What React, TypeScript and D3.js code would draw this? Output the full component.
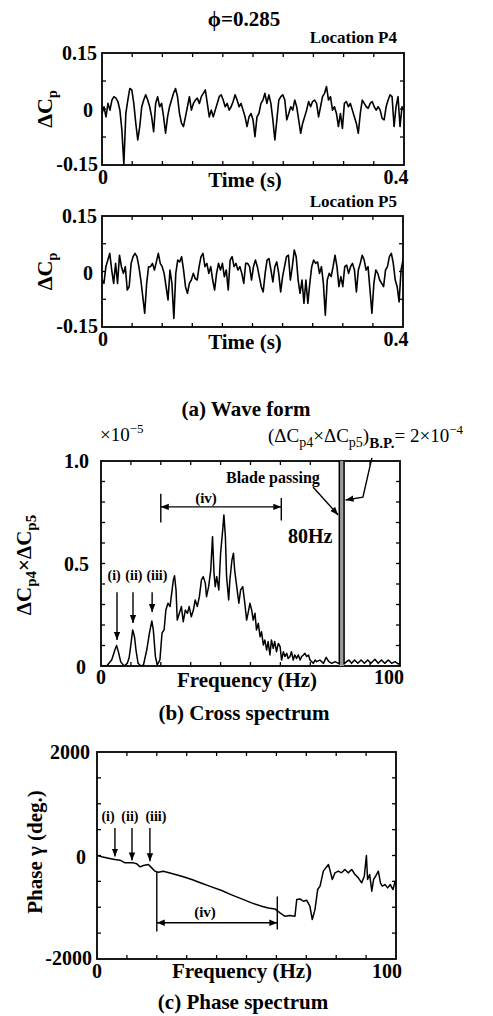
import React, { useEffect, useRef } from "react";
import * as d3 from "d3";

const W = 493;
const H = 1016;
const FONT = "'Liberation Serif', 'Times New Roman', serif";

// (a) wave form: dCp sampled evenly over 0 - 0.4 s
const timeRange = [0, 0.4];
const p4Values = [
  -0.012, 0.006, -0.021, 0.015, -0.003, 0.024, 0.033, 0.029, 0.02, -0.003, -0.056, -0.148,
  -0.012, 0.024, 0.055, 0.051, 0.015, -0.038, -0.083, -0.047, 0.006, 0.024, 0.038, 0.024,
  0.006, -0.021, -0.061, 0.015, 0.033, 0.006, 0.015, -0.021, -0.065, -0.021, 0.006, 0.024,
  0.042, 0.055, 0.033, -0.012, -0.038, -0.047, -0.021, 0.006, 0.033, -0.003, 0.015, 0.024,
  0.029, 0.015, 0.033, 0.042, 0.051, 0.015, -0.021, -0.003, -0.021, -0.003, 0.015, 0.033,
  0.038, 0.024, 0.006, 0.015, -0.003, 0.006, 0.02, 0.038, 0.024, 0.006, 0.015, -0.003,
  -0.021, -0.047, -0.021, -0.012, -0.029, -0.074, -0.021,
  -0.012, 0.015, 0.024, 0.042, 0.015, 0.038, 0.015, -0.029, -0.083, -0.029, 0.024, 0.033,
  0.038, 0.024, -0.029, -0.012, 0.006, -0.003, 0.024, 0.006, -0.029, -0.065, -0.038, -0.021,
  -0.003, 0.02, 0.006, 0.02, 0.024, 0.015, -0.021, 0.006, 0.033, 0.042, 0.06, 0.024, 0.033,
  -0.003, 0.006, -0.012, -0.047, -0.012, -0.052, 0.015, 0.02, 0.006, 0.015, -0.003, -0.021,
  -0.038, -0.065, -0.012, 0.024, 0.015, 0.006, 0.002, 0.015, 0.02, 0.006, -0.003, 0.006,
  -0.003, -0.025, -0.029, 0.006, 0.024, 0.038, 0.033, -0.047, 0.006, 0.033, -0.047, 0.006,
  -0.003,
];
const p5Values = [
  -0.023, -0.032, 0.013, 0.031, 0.049, 0.004, -0.032, 0.022, -0.032, 0.044, 0.013, -0.005,
  0.013, -0.05, -0.041, 0.022, 0.04, 0.049, 0.04, 0.013, -0.023, -0.068, -0.113, -0.032,
  0.013, 0.013, 0.022, 0.004, 0.026, 0.049, 0.022, 0.013, -0.005, -0.041, -0.077, 0.004,
  -0.032, -0.127, -0.005, 0.031, 0.026, 0.04, 0.004, -0.041, -0.059, -0.032, -0.023, -0.005,
  -0.019, -0.023, 0.013, 0.04, 0.049, 0.013, 0.022, -0.005, 0.013, -0.023, -0.05, -0.005,
  0.022, 0.004, 0.022, -0.014, 0.004, -0.05, 0.031, 0.04, 0.013, 0.022, 0.004, 0.013,
  -0.005, -0.032, 0.022, 0.022, 0.013, -0.023,
  0.013, 0.031, 0.013, -0.014, -0.041, -0.055, -0.005, 0.031, 0.035, 0.004, -0.028, 0.013,
  0.026, -0.005, -0.055, -0.014, 0.013, 0.04, 0.044, -0.023, 0.013, 0.058, 0.04, -0.023,
  -0.059, -0.023, -0.086, -0.023, -0.086, -0.032, 0.013, 0.031, 0.022, 0.026, -0.005, 0.013,
  -0.032, -0.118, -0.023, -0.005, -0.014, 0.013, 0.044, 0.013, -0.041, -0.014, -0.041, 0.013,
  0.017, -0.005, 0.013, 0.022, 0.004, -0.055, 0.004, 0.022, 0.044, 0.031, 0.004, 0.013,
  -0.05, -0.113, -0.032, 0.004, -0.005, -0.023, -0.032, -0.041, 0.004, 0.013, 0.04, 0.049,
  0.022, -0.023, -0.041, -0.082, 0.004, 0.031,
];

// (b) cross spectrum, units of 1e-5
const crossFreq = [
  0, 1.9, 3.6, 4.7, 5.2, 5.8, 6.6, 7.7, 8.8, 9.4, 9.9, 10.6, 11.2, 11.7, 12.4, 13.3, 14.2,
  15.3, 16.2, 17.0, 17.5, 18.2, 18.8, 19.7, 20.4, 21.1, 21.7, 22.4, 23.1, 23.5, 24.2, 24.6,
  25.1, 25.5, 26.2, 26.9, 27.5, 28.2, 28.9, 29.5, 30.2, 30.9, 31.5, 32.2, 32.9, 33.6, 34.2,
  34.9, 35.3, 36.0, 36.7, 37.3, 37.8, 38.2, 38.7, 39.4, 40.0, 40.7, 41.1, 41.6, 42.0, 42.7,
  43.1, 43.8, 44.3, 44.7, 45.4, 46.1, 46.7, 47.4, 48.1, 48.7, 49.4, 49.8, 50.4, 50.9, 51.5,
  52.0, 52.6, 53.2, 53.7, 54.3, 54.8, 55.4, 55.9, 56.5, 57.0, 57.6, 58.1, 58.7, 59.3, 59.9,
  60.4, 61.0, 61.5, 62.1, 62.6, 63.2, 63.7, 64.3, 64.8, 65.4, 66.0, 66.6, 67.1, 67.7, 68.2,
  68.8, 69.4, 69.9, 70.5, 71.0, 71.6, 72.1, 73.2, 74.4, 75.3, 76.2, 77.2, 78.3, 79.7, 79.72,
  81.28, 81.3, 82.1, 82.9, 83.8, 84.8, 85.9, 87.0, 88.1, 89.2, 90.3, 91.6, 92.7, 93.8, 94.9,
  96.1, 97.2, 98.3, 99.4, 100,
];
const crossValue = [
  0, 0, 0.03, 0.08, 0.1, 0.07, 0.02, 0, 0.013, 0.04, 0.094, 0.176, 0.143, 0.078, 0.013, 0,
  0.005, 0.078, 0.16, 0.22, 0.176, 0.046, 0.005, 0.03, 0.16, 0.176, 0.273, 0.306, 0.29,
  0.338, 0.42, 0.44, 0.37, 0.224, 0.257, 0.29, 0.216, 0.273, 0.257, 0.29, 0.24, 0.273,
  0.322, 0.29, 0.338, 0.42, 0.436, 0.403, 0.338, 0.387, 0.468, 0.631, 0.452, 0.387, 0.436,
  0.371, 0.55, 0.663, 0.737, 0.631, 0.436, 0.322, 0.42, 0.517, 0.55, 0.468, 0.387, 0.306,
  0.371, 0.387, 0.306, 0.224, 0.273, 0.306, 0.273, 0.224, 0.257, 0.176, 0.208, 0.143,
  0.167, 0.102, 0.127, 0.078, 0.119, 0.054, 0.127, 0.086, 0.119, 0.07, 0.11, 0.094, 0.029,
  0.07, 0.046, 0.062, 0.037, 0.046, 0.07, 0.029, 0.054, 0.037, 0.054, 0.029, 0.046, 0.054,
  0.062, 0.046, 0.054, 0.029, 0.021, 0.013, 0.029, 0.021, 0.029, 0.013, 0.042, 0.021,
  0.013, 0.021, 0.01, 20, 20, 0.01, 0.021, 0.029, 0.013, 0.029, 0.013, 0.029, 0.013, 0.029,
  0.013, 0.033, 0.013, 0.029, 0.013, 0.029, 0.013, 0.021, 0.01, 0.012,
];
const bladeBand = [79.6, 81.4];

// (c) phase spectrum, degrees
const phaseFreq = [
  0, 1.6, 3.8, 6.0, 7.7, 9.4, 10.5, 12.1, 13.3, 14.4, 15.5, 17.2, 18.3, 19.4, 20.5, 22.2,
  25.0, 28.3, 31.7, 35.0, 38.3, 41.7, 45.0, 48.4, 51.7, 55.1, 57.3, 59.5, 61.2, 62.9, 64.5,
  66.2, 66.8, 67.9, 69.0, 70.1, 71.2, 72.0, 72.9, 73.8, 74.6, 75.7, 76.5, 77.4, 78.0, 78.7,
  79.6, 80.7, 81.8, 82.9, 84.0, 85.2, 86.3, 87.4, 88.5, 89.4, 90.1, 90.5, 91.2, 91.9, 92.5,
  93.2, 94.1, 94.8, 95.4, 96.3, 97.2, 98.1, 99.0, 99.7, 100,
];
const phaseValue = [
  0, -26, -52, -77, -90, -142, -142, -142, -161, -219, -193, -174, -239, -303, -322, -303,
  -348, -400, -464, -535, -606, -677, -761, -839, -916, -980, -1013, -1032, -1109, -1174,
  -1161, -1174, -851, -839, -884, -864, -980, -1238, -1045, -658, -593, -303, -239, -174,
  -303, -464, -335, -303, -335, -271, -335, -271, -368, -432, -529, -400, 0, -464, -368,
  -690, -464, -400, -303, -529, -593, -561, -626, -561, -658, -497, -561,
];

const peakLabels = ["(i)", "(ii)", "(iii)"];
const crossPeakFreq = [5.35, 10.7, 17.1];
const crossArrowTip = [0.127, 0.21, 0.263];
const crossLabelFreq = [4.4, 11.0, 18.7];
const phasePeakFreq = [6.0, 11.7, 17.7];
const phaseArrowTip = [-20, -95, -110];
const phaseLabelFreq = [3.7, 11.0, 19.7];
const bandIV = [20, 60.3];

function txt(g, x, y, s, size, anchor = "middle", weight = "bold") {
  return g
    .append("text")
    .attr("x", x)
    .attr("y", y)
    .attr("text-anchor", anchor)
    .attr("font-family", FONT)
    .attr("font-weight", weight)
    .attr("font-size", size)
    .text(s);
}

// frame with inward ticks on all four sides
function frame(g, x, y, xStep, yStep, id) {
  const [x0, x1] = x.domain();
  const [y0, y1] = y.domain();
  const xt = d3.range(x0 + xStep, x1 - xStep / 2, xStep);
  const yt = d3.range(y0 + yStep, y1 - yStep / 2, yStep);
  const L = 4;
  const t = g.append("g").attr("stroke", "#000").attr("stroke-width", 1.3);
  xt.forEach((v) => {
    t.append("line").attr("x1", x(v)).attr("x2", x(v)).attr("y1", y.range()[0]).attr("y2", y.range()[0] - L);
    t.append("line").attr("x1", x(v)).attr("x2", x(v)).attr("y1", y.range()[1]).attr("y2", y.range()[1] + L);
  });
  yt.forEach((v) => {
    t.append("line").attr("y1", y(v)).attr("y2", y(v)).attr("x1", x.range()[0]).attr("x2", x.range()[0] + L);
    t.append("line").attr("y1", y(v)).attr("y2", y(v)).attr("x1", x.range()[1]).attr("x2", x.range()[1] - L);
  });
  g.append("rect")
    .attr("x", x.range()[0])
    .attr("y", y.range()[1])
    .attr("width", x.range()[1] - x.range()[0])
    .attr("height", y.range()[0] - y.range()[1])
    .attr("fill", "none")
    .attr("stroke", "#000")
    .attr("stroke-width", 1.8);
  g.append("clipPath")
    .attr("id", id)
    .append("rect")
    .attr("x", x.range()[0])
    .attr("y", y.range()[1])
    .attr("width", x.range()[1] - x.range()[0])
    .attr("height", y.range()[0] - y.range()[1]);
}

function arrow(g, pts) {
  g.append("path")
    .attr("d", d3.line()(pts))
    .attr("fill", "none")
    .attr("stroke", "#000")
    .attr("stroke-width", 1.4)
    .attr("marker-end", "url(#ah)");
}

function wavePanel(svg, values, top, bottom, right, loc, locY, clipId) {
  const g = svg.append("g");
  const x = d3.scaleLinear().domain(timeRange).range([102, right]);
  const y = d3.scaleLinear().domain([-0.15, 0.15]).range([bottom, top]);
  frame(g, x, y, 0.04, 0.075, clipId);
  const n = values.length;
  const line = d3
    .line<number>()
    .x((d, i) => x((i / (n - 1)) * timeRange[1]))
    .y((d) => y(d));
  g.append("path")
    .datum(values)
    .attr("d", line)
    .attr("clip-path", `url(#${clipId})`)
    .attr("fill", "none")
    .attr("stroke", "#000")
    .attr("stroke-width", 1.6)
    .attr("stroke-linejoin", "round");
  txt(g, 97, y(0.15) + 7, "0.15", 20, "end");
  txt(g, 93, y(0) + 8, "0", 20, "end");
  txt(g, 98, y(-0.15) + 6, "-0.15", 20, "end");
  txt(g, 103, bottom + 19, "0", 20);
  txt(g, 396, bottom + 19, "0.4", 20);
  txt(g, 245, bottom + 22, "Time (s)", 21);
  txt(g, 397, locY, loc, 17, "end");
  const yl = g
    .append("text")
    .attr("transform", `translate(52,${(top + bottom) / 2}) rotate(-90)`)
    .attr("text-anchor", "middle")
    .attr("font-family", FONT)
    .attr("font-weight", "bold")
    .attr("font-size", 22);
  yl.append("tspan").text("ΔC");
  yl.append("tspan").attr("dy", 5).attr("font-size", 14).text("p");
}

export default function App() {
  const ref = useRef<HTMLDivElement>(null);
  useEffect(() => {
    const root = d3.select(ref.current);
    root.selectAll("*").remove();
    const svg = root.append("svg").attr("width", W).attr("height", H).style("display", "block");
    svg.append("rect").attr("width", W).attr("height", H).attr("fill", "#fff");
    svg
      .append("defs")
      .append("marker")
      .attr("id", "ah")
      .attr("viewBox", "0 0 10 10")
      .attr("refX", 10)
      .attr("refY", 5)
      .attr("markerWidth", 8)
      .attr("markerHeight", 8)
      .attr("markerUnits", "userSpaceOnUse")
      .attr("orient", "auto-start-reverse")
      .append("path")
      .attr("d", "M0,1 L10,5 L0,9 z")
      .attr("fill", "#000");

    txt(svg, 244, 26, "ϕ=0.285", 21);

    // (a)
    wavePanel(svg, p4Values, 53, 165, 404, "Location P4", 43, "clipA");
    wavePanel(svg, p5Values, 216, 327, 403, "Location P5", 207, "clipB");
    txt(svg, 246, 416, "(a) Wave form", 21);

    // (b) cross spectrum
    const gb = svg.append("g");
    const xb = d3.scaleLinear().domain([0, 100]).range([101, 400]);
    const yb = d3.scaleLinear().domain([0, 1]).range([666, 461]);
    frame(gb, xb, yb, 10, 0.1, "clipC");
    const pts = crossFreq.map((f, i) => [f, crossValue[i]] as [number, number]);
    gb.append("path")
      .datum(pts.filter((p) => p[0] >= bladeBand[0] && p[0] <= bladeBand[1]))
      .attr("d", d3.area<[number, number]>().x((d) => xb(d[0])).y0(yb(0)).y1((d) => yb(d[1])))
      .attr("clip-path", "url(#clipC)")
      .attr("fill", "#9a9a9a");
    gb.append("path")
      .datum(pts)
      .attr("d", d3.line<[number, number]>().x((d) => xb(d[0])).y((d) => yb(d[1])))
      .attr("clip-path", "url(#clipC)")
      .attr("fill", "none")
      .attr("stroke", "#000")
      .attr("stroke-width", 1.5)
      .attr("stroke-linejoin", "round");
    txt(gb, 89, yb(1) + 7, "1.0", 20, "end");
    txt(gb, 89, yb(0.5) + 7, "0.5", 20, "end");
    txt(gb, 86, yb(0) + 8, "0", 20, "end");
    txt(gb, 101, 684, "0", 20);
    txt(gb, 389, 684, "100", 20);
    txt(gb, 247, 687, "Frequency (Hz)", 21);
    peakLabels.forEach((s, i) => {
      txt(gb, xb(crossLabelFreq[i]), yb(0.42), s, 14);
      arrow(gb, [
        [xb(crossPeakFreq[i]), yb(0.36)],
        [xb(crossPeakFreq[i]), yb(crossArrowTip[i])],
      ]);
    });
    const ivY = yb(0.776);
    arrow(gb, [
      [(xb(bandIV[0]) + xb(bandIV[1])) / 2, ivY],
      [xb(bandIV[0]), ivY],
    ]);
    arrow(gb, [
      [(xb(bandIV[0]) + xb(bandIV[1])) / 2, ivY],
      [xb(bandIV[1]), ivY],
    ]);
    gb.append("line").attr("x1", xb(bandIV[0])).attr("x2", xb(bandIV[0])).attr("y1", yb(0.84)).attr("y2", yb(0.7)).attr("stroke", "#000").attr("stroke-width", 1.4);
    gb.append("line").attr("x1", xb(bandIV[1])).attr("x2", xb(bandIV[1])).attr("y1", yb(0.82)).attr("y2", yb(0.71)).attr("stroke", "#000").attr("stroke-width", 1.4);
    txt(gb, 206, yb(0.795), "(iv)", 15);
    txt(gb, xb(41.8), yb(0.893), "Blade passing", 16, "start");
    arrow(gb, [
      [xb(70.9), yb(0.873)],
      [xb(79.3), yb(0.737)],
    ]);
    txt(gb, xb(62.5), yb(0.6), "80Hz", 20, "start");
    arrow(gb, [
      [xb(90.6), yb(1.015)],
      [xb(87.6), yb(0.824)],
      [xb(81.8), yb(0.81)],
    ]);
    const tx = txt(gb, 100, 441, "×10", 19, "start", "normal");
    tx.append("tspan").attr("dy", -8).attr("font-size", 13).text("−5");
    const bp = txt(gb, 268, 442, "(ΔC", 19, "start", "normal");
    bp.append("tspan").attr("dy", 5).attr("font-size", 14).text("p4");
    bp.append("tspan").attr("dy", -5).text("×ΔC");
    bp.append("tspan").attr("dy", 5).attr("font-size", 14).text("p5");
    bp.append("tspan").attr("dy", -5).text(")");
    bp.append("tspan").attr("dy", 6).attr("font-size", 15).attr("font-weight", "bold").text("B.P.");
    bp.append("tspan").attr("dy", -6).text("= 2×10");
    bp.append("tspan").attr("dy", -8).attr("font-size", 13).text("−4");
    const ylb = gb
      .append("text")
      .attr("transform", `translate(31,565) rotate(-90)`)
      .attr("text-anchor", "middle")
      .attr("font-family", FONT)
      .attr("font-weight", "bold")
      .attr("font-size", 21);
    ylb.append("tspan").text("ΔC");
    ylb.append("tspan").attr("dy", 5).attr("font-size", 15).text("p4");
    ylb.append("tspan").attr("dy", -5).text("×ΔC");
    ylb.append("tspan").attr("dy", 5).attr("font-size", 15).text("p5");
    txt(svg, 244, 720, "(b) Cross spectrum", 21);

    // (c) phase spectrum
    const gc = svg.append("g");
    const xc = d3.scaleLinear().domain([0, 100]).range([97, 396]);
    const yc = d3.scaleLinear().domain([-2000, 2000]).range([959, 752]);
    frame(gc, xc, yc, 10, 500, "clipD");
    gc.append("path")
      .datum(phaseFreq.map((f, i) => [f, phaseValue[i]] as [number, number]))
      .attr("d", d3.line<[number, number]>().x((d) => xc(d[0])).y((d) => yc(d[1])))
      .attr("clip-path", "url(#clipD)")
      .attr("fill", "none")
      .attr("stroke", "#000")
      .attr("stroke-width", 1.5)
      .attr("stroke-linejoin", "round");
    txt(gc, 90, yc(2000) + 7, "2000", 20, "end");
    txt(gc, 86, yc(0) + 8, "0", 20, "end");
    txt(gc, 92, yc(-2000) + 6, "-2000", 20, "end");
    txt(gc, 97, 978, "0", 20);
    txt(gc, 387, 978, "100", 20);
    txt(gc, 242, 978, "Frequency (Hz)", 21);
    peakLabels.forEach((s, i) => {
      txt(gc, xc(phaseLabelFreq[i]), 821, s, 14);
      arrow(gc, [
        [xc(phasePeakFreq[i]), 828],
        [xc(phasePeakFreq[i]), yc(phaseArrowTip[i])],
      ]);
    });
    const ivY2 = yc(-1300);
    arrow(gc, [
      [(xc(bandIV[0]) + xc(bandIV[1])) / 2, ivY2],
      [xc(bandIV[0]), ivY2],
    ]);
    arrow(gc, [
      [(xc(bandIV[0]) + xc(bandIV[1])) / 2, ivY2],
      [xc(bandIV[1]), ivY2],
    ]);
    gc.append("line").attr("x1", xc(bandIV[0])).attr("x2", xc(bandIV[0])).attr("y1", yc(-322)).attr("y2", yc(-1470)).attr("stroke", "#000").attr("stroke-width", 1.4);
    gc.append("line").attr("x1", xc(bandIV[1])).attr("x2", xc(bandIV[1])).attr("y1", yc(-793)).attr("y2", yc(-1430)).attr("stroke", "#000").attr("stroke-width", 1.4);
    txt(gc, 205, 917, "(iv)", 15);
    gc.append("text")
      .attr("transform", `translate(42,852) rotate(-90)`)
      .attr("text-anchor", "middle")
      .attr("font-family", FONT)
      .attr("font-weight", "bold")
      .attr("font-size", 21)
      .text("Phase γ (deg.)");
    txt(svg, 243, 1009, "(c) Phase spectrum", 21);
  }, []);
  return <div ref={ref} style={{ position: "absolute", left: 0, top: 0 }} />;
}
